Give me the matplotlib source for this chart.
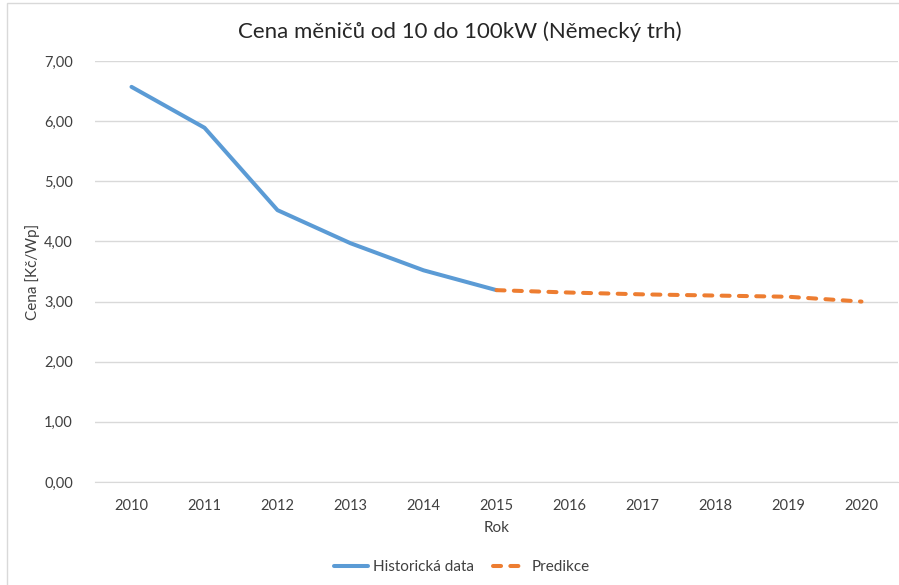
import matplotlib
matplotlib.use("Agg")
import matplotlib.pyplot as plt
from matplotlib.patches import Rectangle
from matplotlib.ticker import FuncFormatter

plt.rcParams['font.family'] = ['Lato', 'DejaVu Sans']

# data
years = ["2010", "2011", "2012", "2013", "2014", "2015",
         "2016", "2017", "2018", "2019", "2020"]
hist_years = years[:6]
hist_values = [6.57, 5.89, 4.52, 3.97, 3.52, 3.19]
pred_years = years[5:]
pred_values = [3.19, 3.15, 3.12, 3.10, 3.08, 3.00]

blue = "#5B9BD5"
orange = "#ED7D31"
grid = "#D9D9D9"
txt = "#404040"

fig = plt.figure(figsize=(8.99, 5.85), dpi=100)
ax = fig.add_axes([95 / 899, 1 - 482 / 585, 803 / 899, 421 / 585])

x_all = list(range(len(years)))
ax.plot(x_all[:6], hist_values, color=blue, lw=2.9,
        solid_capstyle="round", solid_joinstyle="round",
        label="Historická data", zorder=3)
ax.plot(x_all[5:], pred_values, color=orange, lw=2.9,
        dashes=(2.0, 2.3), dash_capstyle="round",
        label="Predikce", zorder=3)

ax.set_xlim(-0.5, len(years) - 0.5)
ax.set_ylim(0, 7)
ax.set_xticks(x_all)
ax.set_xticklabels(years)
ax.set_yticks(range(0, 8))
ax.yaxis.set_major_formatter(FuncFormatter(lambda v, p: f"{v:.2f}".replace(".", ",")))
ax.tick_params(length=0, labelsize=10.5, labelcolor=txt)
ax.tick_params(axis="y", pad=16)
ax.tick_params(axis="x", pad=12)
ax.grid(axis="y", color=grid, lw=1)
ax.set_axisbelow(True)
for s in ["top", "right", "left"]:
    ax.spines[s].set_visible(False)
ax.spines["bottom"].set_color(grid)

ax.set_xlabel("Rok", fontsize=11, color=txt, labelpad=6)
ax.set_ylabel("Cena [Kč/Wp]", fontsize=11, color=txt, labelpad=3)
fig.text(460 / 899, 1 - 32 / 585, "Cena měničů od 10 do 100kW (Německý trh)",
         ha="center", va="center", fontsize=16, color="#262626")

fig.legend(loc="center", bbox_to_anchor=(462 / 899, 1 - 567 / 585), ncol=2,
           frameon=False, fontsize=11, handlelength=2.2, handletextpad=0.35,
           columnspacing=1.2, labelcolor=txt)

# chart area border
fig.patches.append(Rectangle((7 / 899, -0.1), 1.1, 1 - 3 / 585 + 0.1,
                             transform=fig.transFigure, fill=False,
                             edgecolor=grid, lw=1))

fig.savefig("out.png", dpi=100)
